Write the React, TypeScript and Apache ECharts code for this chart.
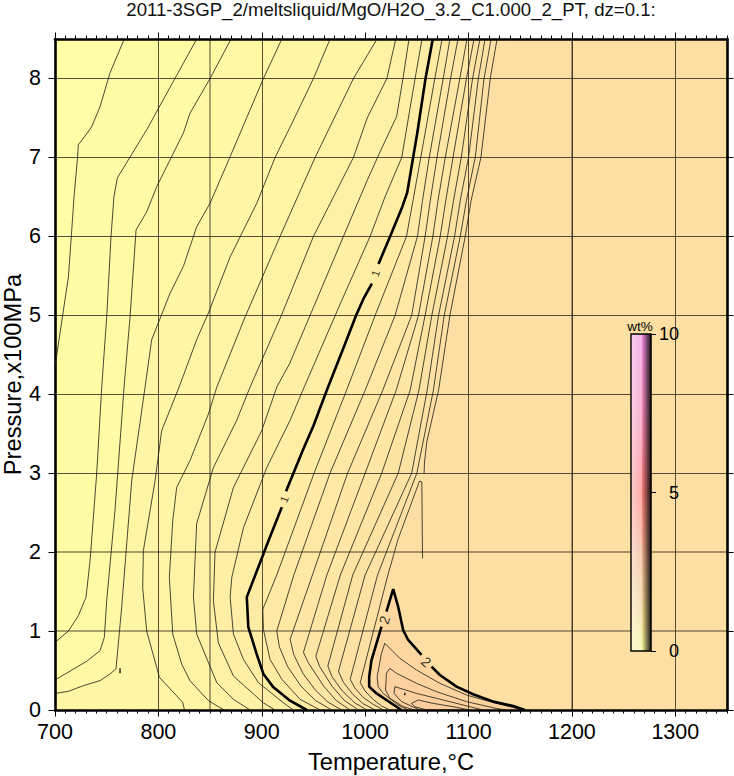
import React, { useEffect, useRef } from "react";
import * as echarts from "echarts";

type Pt = [number, number];

const titleText = "2011-3SGP_2/meltsliquid/MgO/H2O_3.2_C1.000_2_PT, dz=0.1:";
const xMajor = [700, 800, 900, 1000, 1100, 1200, 1300];
const yMajor = [0, 1, 2, 3, 4, 5, 6, 7, 8];
const barTicks = [0, 5, 10];
const xGridValues = [700, 750, 800, 850, 900, 950, 1000, 1050, 1100, 1150, 1200, 1250, 1300, 1350];
const yGridValues = [0, 1, 2, 3, 4, 5, 6, 7, 8, 8.5];
const paleX = [850, 1200];
const paleY = [1, 2];

const z01: Pt[] = [[700, 4.35], [713, 5.49], [716, 6.04], [718.4, 6.5], [721.6, 6.97], [722.6, 7.16], [731.3, 7.31], [735.5, 7.39], [743.5, 7.64], [753.2, 8.07], [767, 8.5]];
const z02: Pt[] = [[700, 0.857], [713, 1.0], [722.6, 1.195], [730, 1.43], [733.9, 1.89], [740.3, 2.99], [745.2, 4.09], [750, 4.98], [754.2, 6.0], [757, 6.5], [760.3, 6.74], [788.7, 7.35], [817.7, 8.04], [837.1, 8.5]];
const z03: Pt[] = [[700, 0.38], [730.6, 0.617], [743.5, 0.75], [747.7, 0.92], [750, 1.385], [758, 2.525], [766.8, 4.09], [772.6, 4.98], [778.4, 6.08], [788.7, 6.31], [798.4, 6.63], [824.2, 7.31], [830.6, 7.56], [850, 8.0], [870.3, 8.5]];
const z04: Pt[] = [[700, 0.21], [712.9, 0.236], [727.4, 0.308], [743.5, 0.372], [753.2, 0.456], [759, 0.52], [764.5, 1.3], [774.2, 2.905], [787.1, 4.09], [793.5, 4.69], [811.3, 5.28], [824.2, 5.62], [837, 6.12], [850, 6.42], [869.4, 7.01], [901.6, 8.0], [919.4, 8.5]];
const z05: Pt[] = [[825.2, 0], [823.5, 0.097], [801, 0.414], [788.7, 1.0], [784.8, 1.55], [785.5, 2.02], [796.8, 2.905], [803.2, 3.54], [820, 4.09], [837, 4.69], [848.4, 5.03], [869.4, 5.74], [895.2, 6.42], [912.9, 7.0], [930.6, 7.47], [950, 8.0], [966.1, 8.5]];
const z06: Pt[] = [[863.5, 0], [848.4, 0.118], [830.6, 0.37], [822.6, 0.58], [813.9, 0.96], [810.6, 1.68], [813.9, 2.4], [817.7, 2.82], [830.6, 3.16], [848.4, 3.75], [856.5, 4.09], [883.9, 4.98], [917.7, 6.0], [951.6, 7.0], [988.7, 8.0], [1011.5, 8.5]];
const z07: Pt[] = [[888.7, 0], [872.6, 0.135], [856.5, 0.346], [837.1, 0.96], [833.9, 1.43], [837, 2.36], [853.2, 3.07], [875.8, 3.67], [888.7, 4.09], [919, 5.0], [927.4, 5.27], [950, 6.0], [988.7, 7.0], [1002, 7.5], [1021, 8.0], [1029.6, 8.5]];
const z08: Pt[] = [[912.9, 0], [901.6, 0.09], [872.6, 0.43], [858, 0.85], [853.2, 1.385], [854.8, 2.0], [872.6, 2.82], [900, 3.54], [914.5, 4.09], [927, 4.39], [950, 5.1], [979, 6.0], [1002, 6.71], [1014.4, 7.07], [1030.5, 7.52], [1036.6, 8.0], [1042.4, 8.5]];
const z09: Pt[] = [[930.6, 0], [921, 0.09], [896.8, 0.346], [882.3, 0.64], [872.6, 0.96], [869.4, 1.43], [871, 1.68], [882.3, 2.31], [904.8, 3.07], [927.4, 3.67], [941, 4.09], [977.4, 5.19], [1004.8, 6.0], [1019.2, 6.5], [1035.4, 7.0], [1048.3, 8.0], [1055, 8.5]];
const z10a: Pt[] = [[943.5, 0], [927.4, 0.118], [911.3, 0.287], [901.6, 0.456], [895, 0.71], [887, 1.05], [885.5, 1.43], [906.5, 2.145], [919.4, 2.57]];
const z10b: Pt[] = [[923.5, 2.77], [930.6, 3.0], [940.3, 3.31], [950, 3.6], [962.9, 4.05], [980.6, 4.64], [991.3, 5.0], [998.4, 5.21], [1006.5, 5.4]];
const z10c: Pt[] = [[1012.9, 5.65], [1024.2, 6.0], [1035.8, 6.37], [1040.6, 6.55], [1046.4, 7.0], [1050.3, 7.3], [1058.4, 8.0], [1065.4, 8.5]];
const z11: Pt[] = [[956.5, 0], [937, 0.135], [919.4, 0.39], [908, 0.64], [901.6, 1.02], [901, 1.275], [914.5, 1.71], [950.6, 3.0], [982, 4.05], [1009.7, 5.0], [1040, 6.0], [1046.3, 6.456], [1053.8, 7.0], [1067.4, 8.0], [1074.4, 8.5]];
const z12: Pt[] = [[967.7, 0], [952, 0.12], [938, 0.3], [925, 0.55], [917, 0.8], [914.5, 1.0], [931, 1.71], [966, 3.0], [1000, 4.05], [1029, 5.0], [1050.6, 6.0], [1055.5, 6.456], [1062, 7.0], [1075.5, 8.0], [1082, 8.5]];
const z13: Pt[] = [[977.4, 0], [964, 0.1], [952, 0.25], [940, 0.46], [931, 0.7], [927.4, 0.895], [949, 1.71], [983, 3.0], [1017, 4.05], [1045, 5.0], [1058, 6.0], [1063, 6.456], [1069.5, 7.0], [1082.6, 8.0], [1089.8, 8.5]];
const z14: Pt[] = [[985.5, 0], [972, 0.12], [960, 0.3], [945, 0.6], [940.3, 0.73], [963, 1.71], [1000, 3.0], [1030, 4.05], [1051.6, 5.0], [1065.5, 6.0], [1070.5, 6.456], [1077.5, 7.0], [1091.6, 8.0], [1098.5, 8.5]];
const z15: Pt[] = [[993.5, 0], [980, 0.12], [968, 0.3], [956, 0.55], [952.3, 0.68], [976, 1.71], [1016, 3.0], [1043.5, 4.05], [1058, 5.0], [1072.6, 6.0], [1078, 6.456], [1085, 7.0], [1098, 8.0], [1105.3, 8.5]];
const z16: Pt[] = [[1001.6, 0], [990, 0.09], [978, 0.24], [968, 0.42], [963.9, 0.557], [988, 1.71], [1032, 3.0], [1052, 4.05], [1064.5, 5.0], [1079.7, 6.0], [1085.5, 6.456], [1093, 7.0], [1103.9, 8.0], [1111, 8.5]];
const z17: Pt[] = [[1009.7, 0], [998, 0.08], [988, 0.2], [979, 0.35], [974.2, 0.49], [1000, 1.71], [1045, 3.0], [1060, 4.05], [1071, 5.0], [1086.5, 6.0], [1092, 6.456], [1100, 7.0], [1109.5, 8.0], [1116, 8.5]];
const z18: Pt[] = [[1017.7, 0], [1008, 0.07], [998, 0.16], [990, 0.28], [985.5, 0.388], [1012, 1.71], [1050, 3.0], [1066, 4.05], [1076.5, 5.0], [1092, 6.0], [1098, 6.456], [1106.5, 7.0], [1115, 8.0], [1121.8, 8.5]];
const z19a: Pt[] = [[1024, 0], [1016, 0.05], [1008, 0.13], [1000, 0.24], [995.2, 0.346], [1022, 1.71], [1032, 2.17], [1052.6, 2.9], [1054.8, 2.89], [1055.5, 1.92]];
const z19b: Pt[] = [[1057, 3.0], [1057.4, 3.14], [1059.7, 3.4], [1071, 4.05], [1082, 5.0], [1096.8, 6.0], [1102.5, 6.456], [1112, 7.0], [1121, 8.0], [1127.6, 8.5]];
const z20a: Pt[] = [[1035, 0], [1011, 0.21], [1003.9, 0.296], [1003.9, 0.42], [1006.1, 0.63], [1015.8, 1.056]];
const z20b: Pt[] = [[1020.6, 1.246], [1027.1, 1.53], [1031.9, 1.31], [1036.8, 1.01], [1041.6, 0.887], [1054.5, 0.697]];
const z20c: Pt[] = [[1064.2, 0.55], [1072.3, 0.443], [1088.4, 0.296], [1104.5, 0.2], [1123.9, 0.106], [1143.2, 0.05], [1154.5, 0]];
const z21: Pt[] = [[1041.6, 0], [1031.9, 0.063], [1017.4, 0.21], [1012.6, 0.296], [1011.6, 0.42], [1015.8, 0.718], [1019, 0.845], [1033.5, 0.655], [1049.7, 0.507], [1072.3, 0.338], [1098, 0.19], [1120.6, 0.106], [1146.5, 0.02], [1149.7, 0]];
const z22: Pt[] = [[1048, 0], [1036.8, 0.042], [1023.9, 0.148], [1019.7, 0.253], [1020.6, 0.465], [1023.9, 0.528], [1030.3, 0.465], [1049.7, 0.338], [1069, 0.232], [1098, 0.106], [1127, 0.02], [1136.8, 0]];
const z23: Pt[] = [[1052.9, 0], [1035.2, 0.106], [1028, 0.21], [1028.7, 0.296], [1049.7, 0.21], [1069, 0.148], [1094.8, 0.063], [1114.2, 0]];
const z24: Pt[] = [[1044.8, 0.084], [1051.3, 0.127], [1065.8, 0.084], [1085, 0.042], [1101.3, 0], [1059.4, 0], [1048, 0.042], [1044.8, 0.084]];
const speck1: Pt[] = [[762.4, 0.47], [762.9, 0.53], [763.4, 0.47], [762.4, 0.47]];
const speck2: Pt[] = [[1037.9, 0.19], [1038.4, 0.22], [1038.9, 0.19], [1037.9, 0.19]];

const thinLines = [z01, z02, z03, z04, z05, z06, z07, z08, z09, z11, z12, z13, z14, z15, z16, z17, z18, z19a, z19b, z21, z22, z23, z24, speck1, speck2];
const thickLines = [z10a, z10b, z10c, z20a, z20b, z20c];

const contourLabels: { text: string; at: Pt; rotate: number; size: number }[] = [
  { text: "1", at: [1010, 5.53], rotate: 72, size: 11 },
  { text: "1", at: [921.6, 2.67], rotate: 68, size: 11 },
  { text: "2", at: [1018.6, 1.14], rotate: 72, size: 14 },
  { text: "2", at: [1059, 0.61], rotate: -42, size: 14 },
];

// palette: [z, r, g, b]
const palette = [
  [0, 255, 254, 166],
  [1, 254, 235, 164],
  [1.9, 253, 223, 163],
  [1.95, 253, 218, 162],
  [2, 253, 214, 160],
  [2.4, 251, 204, 158],
];
// colour bar: [position from its top, r, g, b]
const barStops = [
  [0, 240, 140, 225],
  [0.25, 245, 140, 185],
  [0.5, 248, 125, 120],
  [0.75, 240, 190, 145],
  [0.83, 240, 205, 145],
  [1, 245, 245, 150],
];
const barColumns = 20;

const colorAt = (z: number) => {
  let i = 0;
  while (i < palette.length - 2 && z > palette[i + 1][0]) i++;
  const a = palette[i];
  const b = palette[i + 1];
  const t = Math.min(1, Math.max(0, (z - a[0]) / (b[0] - a[0])));
  const m = (k: number) => Math.round(a[k] + (b[k] - a[k]) * t);
  return `rgb(${m(1)},${m(2)},${m(3)})`;
};

const X0 = 700, X1 = 1350, Y0 = 0, Y1 = 8.5;
const rightClose: Pt[] = [[X1, Y1], [X1, Y0]];
const rightCloseLeft: Pt[] = [[X1, Y1], [X1, Y0], [X0, Y0]];

// nested regions, painted from low to high level
const bands: { z: number; pts: Pt[] }[] = [
  { z: 0, pts: [[X0, Y0], [X0, Y1], [X1, Y1], [X1, Y0]] },
  { z: 0.1, pts: [...z01, ...rightCloseLeft] },
  { z: 0.2, pts: [...z02, ...rightCloseLeft] },
  { z: 0.3, pts: [...z03, ...rightCloseLeft] },
  { z: 0.4, pts: [...z04, ...rightCloseLeft] },
  { z: 0.5, pts: [...z05, ...rightClose] },
  { z: 0.6, pts: [...z06, ...rightClose] },
  { z: 0.7, pts: [...z07, ...rightClose] },
  { z: 0.8, pts: [...z08, ...rightClose] },
  { z: 0.9, pts: [...z09, ...rightClose] },
  { z: 1.0, pts: [...z10a, ...z10b, ...z10c, ...rightClose] },
  { z: 1.1, pts: [...z11, ...rightClose] },
  { z: 1.2, pts: [...z12, ...rightClose] },
  { z: 1.3, pts: [...z13, ...rightClose] },
  { z: 1.4, pts: [...z14, ...rightClose] },
  { z: 1.5, pts: [...z15, ...rightClose] },
  { z: 1.6, pts: [...z16, ...rightClose] },
  { z: 1.7, pts: [...z17, ...rightClose] },
  { z: 1.8, pts: [...z18, ...rightClose] },
  { z: 1.9, pts: [...z19a, ...z19b, ...rightClose] },
  { z: 2.0, pts: [...z20a, ...z20b, ...z20c] },
  { z: 2.1, pts: z21 },
  { z: 2.2, pts: z22 },
  { z: 2.3, pts: z23 },
  { z: 2.4, pts: z24 },
];

const FONT = "Liberation Sans";
const W = 734, H = 776;
const grid = { left: 55, right: 7, top: 39, bottom: 66 };
const barBox = { x: 631, y: 334, w: 20, h: 317 };
const GRID_DARK = "rgba(45,38,25,0.8)";
const GRID_PALE = "rgba(45,38,25,0.42)";
const NONE = "rgba(0,0,0,0)";

const frameLine = { show: true, onZero: false, lineStyle: { color: "#000", width: 2.6 } };
const noLine = { show: false, onZero: false };
const tickBlack = (length: number) => ({ show: true, length, lineStyle: { color: "#000", width: 1 } });
const plainNumber = (v: number) => String(v);

// light on the left of the bar, full colour in the middle, dark on the right
const shadeColumn = (rgb: number[], t: number) => {
  if (t < 0.55) {
    const w = 0.6 - 0.5 * t;
    return `rgb(${rgb.map((c) => Math.round(c + (255 - c) * w)).join(",")})`;
  }
  const f = 1 - ((t - 0.55) / 0.45) * 0.88;
  return `rgb(${rgb.map((c) => Math.round(c * f)).join(",")})`;
};

const barGraphics = () =>
  Array.from({ length: barColumns }, (_, c) => ({
    type: "rect",
    z: 20,
    shape: { x: barBox.x + (c * barBox.w) / barColumns, y: barBox.y, width: barBox.w / barColumns + 0.3, height: barBox.h },
    style: {
      fill: new echarts.graphic.LinearGradient(
        0, 0, 0, 1,
        barStops.map((s) => ({ offset: s[0], color: shadeColumn(s.slice(1), (c + 0.5) / barColumns) })),
      ),
    },
  }));

export default function App() {
  const ref = useRef<HTMLDivElement>(null);
  useEffect(() => {
    document.body.style.margin = "0";
    const chart = echarts.init(ref.current!, null, { renderer: "svg" });
    const xBase = { type: "value", gridIndex: 0, min: X0, max: X1, z: 5, splitLine: { show: false }, axisLabel: { show: false }, axisLine: noLine };
    const yBase = { type: "value", gridIndex: 0, min: Y0, max: Y1, z: 5, splitLine: { show: false }, axisLabel: { show: false }, axisLine: noLine };
    chart.setOption({
      animation: false,
      backgroundColor: "#fff",
      title: {
        text: titleText,
        left: 391,
        textAlign: "center",
        top: 0,
        padding: 0,
        textStyle: { fontFamily: FONT, fontSize: 18.6, fontWeight: "normal", color: "#111" },
      },
      grid: [
        { ...grid, containLabel: false, outerBoundsMode: "none" },
        { left: barBox.x, top: barBox.y, width: barBox.w, height: barBox.h, containLabel: false, outerBoundsMode: "none" },
      ],
      xAxis: [
        {
          ...xBase,
          position: "bottom",
          interval: 50,
          splitLine: { show: true, lineStyle: { color: xGridValues.map((v) => (paleX.includes(v) ? NONE : GRID_DARK)), width: 1 } },
          axisLine: frameLine,
          axisTick: { ...tickBlack(6.5), customValues: xMajor },
          axisLabel: { show: true, customValues: xMajor, formatter: plainNumber, margin: 11, fontFamily: FONT, fontSize: 21.5, color: "#000" },
          name: "Temperature,°C",
          nameLocation: "middle",
          nameGap: 40,
          nameMoveOverlap: false,
          nameTextStyle: { fontFamily: FONT, fontSize: 23.7, color: "#000" },
        },
        { ...xBase, position: "bottom", interval: 10, axisTick: tickBlack(3.5) },
        { ...xBase, position: "top", interval: 50, axisLine: frameLine, axisTick: { ...tickBlack(6.5), customValues: xMajor } },
        { ...xBase, position: "top", interval: 10, axisTick: tickBlack(3.5) },
        { type: "value", gridIndex: 1, min: 0, max: 1, show: false },
      ],
      yAxis: [
        {
          ...yBase,
          position: "left",
          interval: 1,
          splitLine: { show: true, lineStyle: { color: yGridValues.map((v) => (paleY.includes(v) ? NONE : GRID_DARK)), width: 1 } },
          axisLine: frameLine,
          axisTick: { ...tickBlack(6.5), customValues: yMajor },
          axisLabel: { show: true, customValues: yMajor, formatter: plainNumber, margin: 14, fontFamily: FONT, fontSize: 21.5, color: "#000" },
          name: "Pressure,x100MPa",
          nameLocation: "middle",
          nameGap: 30,
          nameMoveOverlap: false,
          nameTextStyle: { fontFamily: FONT, fontSize: 23.7, color: "#000" },
        },
        { ...yBase, position: "right", interval: 1, axisLine: frameLine, axisTick: { ...tickBlack(6.5), customValues: yMajor } },
        {
          type: "value",
          gridIndex: 1,
          min: 0,
          max: 10,
          interval: 5,
          position: "right",
          z: 30,
          splitLine: { show: false },
          axisLine: noLine,
          axisTick: { show: true, length: 5, lineStyle: { color: "#000", width: 1 }, customValues: barTicks },
          axisLabel: { show: true, customValues: barTicks, formatter: plainNumber, margin: 28, align: "right", fontFamily: FONT, fontSize: 18, color: "#000" },
        },
      ],
      series: [
        {
          type: "custom",
          coordinateSystem: "cartesian2d",
          xAxisIndex: 0,
          yAxisIndex: 0,
          z: 1,
          silent: true,
          clip: true,
          data: bands.map((b, i) => [X0, Y0, i]),
          renderItem: (params: any, api: any) => {
            const b = bands[params.dataIndex];
            return {
              type: "polygon",
              shape: { points: b.pts.map((p) => api.coord(p)) },
              style: { fill: colorAt(b.z), stroke: null },
            };
          },
        },
        {
          type: "line",
          xAxisIndex: 0,
          yAxisIndex: 0,
          data: [],
          silent: true,
          z: 5,
          markLine: {
            silent: true,
            symbol: "none",
            label: { show: false },
            lineStyle: { color: GRID_PALE, width: 2, type: "solid" },
            data: [...paleX.map((xAxis) => ({ xAxis })), ...paleY.map((yAxis) => ({ yAxis }))],
          },
        },
        ...thinLines.map((line) => ({
          type: "line",
          xAxisIndex: 0,
          yAxisIndex: 0,
          data: line,
          showSymbol: false,
          silent: true,
          z: 6,
          lineStyle: { color: "#1c1c14", width: 0.8 },
        })),
        ...thickLines.map((line) => ({
          type: "line",
          xAxisIndex: 0,
          yAxisIndex: 0,
          data: line,
          showSymbol: false,
          silent: true,
          z: 7,
          lineStyle: { color: "#000", width: 2.6 },
        })),
        {
          type: "scatter",
          xAxisIndex: 0,
          yAxisIndex: 0,
          symbolSize: 0,
          z: 8,
          silent: true,
          data: contourLabels.map((l) => ({
            value: l.at,
            label: {
              show: true,
              formatter: l.text,
              position: "inside",
              rotate: l.rotate,
              fontFamily: FONT,
              fontSize: l.size,
              color: "#000",
            },
          })),
        },
      ],
      graphic: [
        ...barGraphics(),
        { type: "rect", z: 22, shape: { x: barBox.x, y: barBox.y, width: barBox.w, height: barBox.h }, style: { fill: "none", stroke: "#000", lineWidth: 1.4 } },
        { type: "text", z: 22, x: barBox.x + barBox.w / 2 - 1, y: barBox.y - 8, style: { text: "wt%", align: "center", verticalAlign: "middle", font: `13.5px "${FONT}"`, fill: "#000" } },
      ],
    });
    return () => chart.dispose();
  }, []);
  return <div ref={ref} style={{ position: "absolute", left: 0, top: 0, width: W, height: H, overflow: "hidden" }} />;
}
